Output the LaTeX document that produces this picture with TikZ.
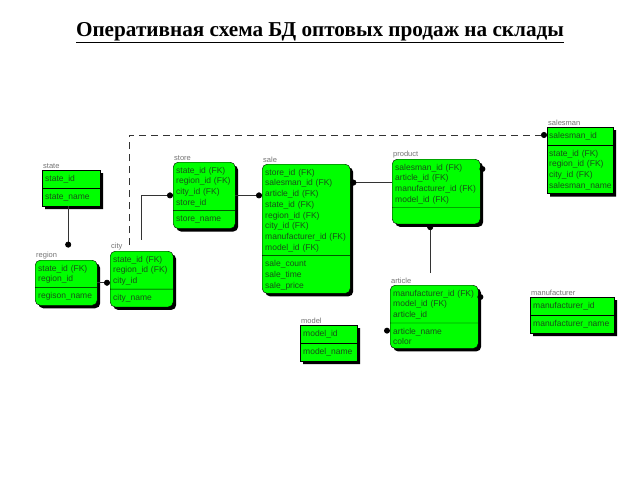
\documentclass[tikz,border=0pt]{standalone}
\usepackage{fontspec}
\setmainfont{Liberation Serif}
\newfontfamily\erfont{Liberation Sans}
\usetikzlibrary{shapes.multipart,shadows,arrows.meta}

\definecolor{entgreen}{RGB}{0,255,0}
\definecolor{enttext}{RGB}{25,80,25}

\tikzset{
  ent/.style={rectangle split, rectangle split parts=2, draw=black, fill=entgreen,
    rounded corners=5pt, anchor=north west, align=left, inner xsep=3pt, inner ysep=3.4pt,
    text=enttext, font=\erfont\fontsize{8.5}{10.7}\selectfont,
    drop shadow={shadow xshift=3pt, shadow yshift=-3pt, fill=black, opacity=1}},
  kent/.style={ent, sharp corners},
  ename/.style={anchor=south west, inner sep=0pt, xshift=1pt, yshift=1pt, text=black!55,
    font=\erfont\fontsize{7.5}{8}\selectfont},
  rel/.style={draw=black!80, line width=0.7pt, -{Circle[length=6pt, color=black]}},
}

\begin{document}
\begin{tikzpicture}[x=1pt, y=-1pt]
  \useasboundingbox (0,0) rectangle (640,480);

  \node[font=\bfseries\fontsize{21.2}{24}\selectfont] (title) at (320,33)
    {\underline{Оперативная схема БД оптовых продаж на склады}};

  % entities
  \node[kent, text width=52pt] (state) at (42,170)
    {\strut state\_id \nodepart{two}\strut state\_name};
  \node[ent, text width=56pt] (region) at (35,260)
    {\strut state\_id (FK)\\region\_id \nodepart{two}\strut regison\_name};
  \node[ent, text width=57pt] (city) at (110,251)
    {\strut state\_id (FK)\\region\_id (FK)\\city\_id \nodepart{two}\strut city\_name};
  \node[ent, text width=56pt] (store) at (173,162)
    {\strut state\_id (FK)\\region\_id (FK)\\city\_id (FK)\\store\_id \nodepart{two}\strut store\_name};
  \node[ent, text width=82pt] (sale) at (262,164)
    {\strut store\_id (FK)\\salesman\_id (FK)\\article\_id (FK)\\state\_id (FK)\\region\_id (FK)\\city\_id (FK)\\manufacturer\_id (FK)\\model\_id (FK)
     \nodepart{two}\strut sale\_count\\sale\_time\\sale\_price};
  \node[ent, text width=82pt] (product) at (392,159)
    {\strut salesman\_id (FK)\\article\_id (FK)\\manufacturer\_id (FK)\\model\_id (FK) \nodepart{two} \rule{0pt}{9pt}};
  \node[ent, text width=82pt] (article) at (390,285)
    {\strut manufacturer\_id (FK)\\model\_id (FK)\\article\_id \nodepart{two}\strut article\_name\\color};
  \node[kent, inner xsep=2pt, text width=62pt] (salesman) at (547,127)
    {\strut salesman\_id \nodepart{two}\strut state\_id (FK)\\region\_id (FK)\\city\_id (FK)\\salesman\_name};
  \node[kent, text width=51pt] (model) at (300,325)
    {\strut model\_id \nodepart{two}\strut model\_name};
  \node[kent, text width=78pt] (manufacturer) at (530,297)
    {\strut manufacturer\_id \nodepart{two}\strut manufacturer\_name};

  % entity names
  \node[ename] (statelbl) at (state.north west) {state};
  \node[ename] (regionlbl) at (region.north west) {region};
  \node[ename] (citylbl) at (city.north west) {city};
  \node[ename] (storelbl) at (store.north west) {store};
  \node[ename] (salelbl) at (sale.north west) {sale};
  \node[ename] (productlbl) at (product.north west) {product};
  \node[ename] (articlelbl) at (article.north west) {article};
  \node[ename] (salesmanlbl) at (salesman.north west) {salesman};
  \node[ename] (modellbl) at (model.north west) {model};
  \node[ename] (manufacturerlbl) at (manufacturer.north west) {manufacturer};

  % relations
  \draw[rel] ([xshift=-3pt]state.south) -- ([xshift=-3pt, yshift=4pt]state.south |- regionlbl.north);
  \draw[rel] (region.east) -- (region.east -| city.west);
  \draw[rel] ([yshift=3pt]city.north |- citylbl.north) |- (store.west);
  \draw[rel] (store.east) -- (store.east -| sale.west);
  \draw[rel] ([yshift=9pt]product.west) -- ([yshift=9pt]product.west -| sale.east);
  \draw[rel] ([xshift=-6pt, yshift=5pt]product.south |- articlelbl.north) -- ([xshift=-6pt]product.south);

  \coordinate (smfree) at (129,245);
  \coordinate (smkey) at ([yshift=-8pt]salesman.north west);
  \draw[rel, dash pattern=on 7pt off 5pt] (smfree) |- (smkey);

  % loose key dots
  \fill ([xshift=2pt, yshift=-10pt]product.north east) circle (3pt);
  \fill ([xshift=2pt, yshift=-12pt]article.north east) circle (3pt);
  \fill ([xshift=-3pt, yshift=18pt]article.south west) circle (3pt);
\end{tikzpicture}
\end{document}
